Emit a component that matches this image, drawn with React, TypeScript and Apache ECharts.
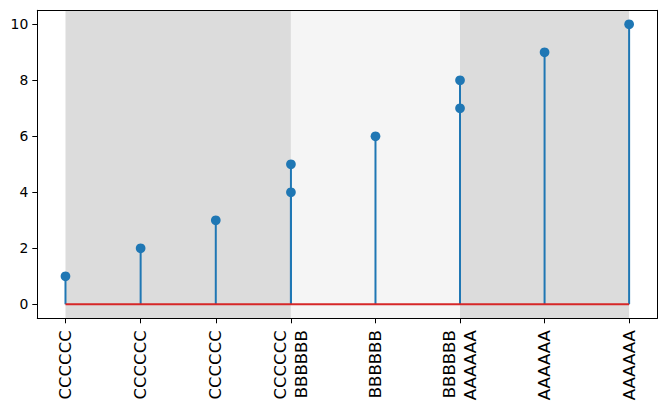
import React, { useEffect, useRef } from "react";
import * as echarts from "echarts";

const positions = [0, 8, 16, 24, 24, 33, 42, 42, 51, 60];
const values = [1, 2, 3, 4, 5, 6, 7, 8, 9, 10];
const labels = [
  "CCCCCC", "CCCCCC", "CCCCCC", "CCCCCC",
  "BBBBBB", "BBBBBB", "BBBBBB",
  "AAAAAA", "AAAAAA", "AAAAAA",
];
const yTicks = [0, 2, 4, 6, 8, 10];

const FONT = "DejaVu Sans";

export default function App() {
  const ref = useRef<HTMLDivElement>(null);

  useEffect(() => {
    if (!ref.current) return;
    const chart = echarts.init(ref.current, null, { renderer: "svg" });

    const tickMap: Record<string, string[]> = {};
    positions.forEach((p, i) => {
      const k = String(p);
      if (!tickMap[k]) tickMap[k] = [];
      tickMap[k].push(labels[i]);
    });
    const tickPositions = Array.from(new Set(positions));

    const groupOrder: string[] = [];
    labels.forEach((l) => { if (!groupOrder.includes(l)) groupOrder.push(l); });
    const spanColors = ["#dcdcdc", "#f5f5f5"];
    const spans = groupOrder.map((g, gi) => {
      const ps = positions.filter((_, i) => labels[i] === g);
      return [Math.min(...ps), Math.max(...ps), gi % 2];
    });

    const xMinData = Math.min(...positions);
    const xMaxData = Math.max(...positions);
    const xPad = (xMaxData - xMinData) * 0.05;
    const yMinData = 0;
    const yMaxData = Math.max(...values);
    const yPad = (yMaxData - yMinData) * 0.05;
    const xMin = xMinData - xPad, xMax = xMaxData + xPad;
    const yMin = yMinData - yPad, yMax = yMaxData + yPad;

    const stemData = positions.map((p, i) => [p, values[i]]);

    chart.setOption({
      animation: false,
      backgroundColor: "#ffffff",
      grid: { left: 37.3, right: 9.7, top: 10.3, bottom: 89.7, containLabel: false },
      xAxis: [
        {
          type: "value",
          min: xMin,
          max: xMax,
          z: 10,
          splitLine: { show: false },
          axisLine: { show: true, onZero: false, lineStyle: { color: "#000", width: 1 } },
          axisTick: { show: true, length: 5, lineStyle: { color: "#000", width: 1 }, customValues: tickPositions },
          axisLabel: {
            show: true,
            customValues: tickPositions,
            rotate: 90,
            margin: 12,
            fontFamily: FONT,
            fontSize: 16.5,
            lineHeight: 21,
            color: "#000",
            formatter: (v: number) => (tickMap[String(v)] || []).join("\n"),
          },
        },
        {
          type: "value",
          position: "top",
          min: xMin,
          max: xMax,
          z: 10,
          splitLine: { show: false },
          axisLine: { show: true, onZero: false, lineStyle: { color: "#000", width: 1 } },
          axisTick: { show: false },
          axisLabel: { show: false },
        },
      ],
      yAxis: [
        {
          type: "value",
          min: yMin,
          max: yMax,
          z: 10,
          splitLine: { show: false },
          axisLine: { show: true, onZero: false, lineStyle: { color: "#000", width: 1 } },
          axisTick: { show: true, length: 5, lineStyle: { color: "#000", width: 1 }, customValues: yTicks },
          axisLabel: {
            show: true,
            customValues: yTicks,
            margin: 9,
            fontFamily: FONT,
            fontSize: 13.9,
            color: "#000",
          },
        },
        {
          type: "value",
          position: "right",
          min: yMin,
          max: yMax,
          z: 10,
          splitLine: { show: false },
          axisLine: { show: true, onZero: false, lineStyle: { color: "#000", width: 1 } },
          axisTick: { show: false },
          axisLabel: { show: false },
        },
      ],
      series: [
        {
          type: "custom",
          z: 1,
          silent: true,
          data: spans,
          renderItem: (params: any, api: any) => {
            const a = api.coord([api.value(0), yMax]);
            const b = api.coord([api.value(1), yMin]);
            const cs = params.coordSys;
            return {
              type: "rect",
              shape: { x: a[0], y: cs.y, width: b[0] - a[0], height: cs.height },
              style: { fill: spanColors[api.value(2)] },
            };
          },
        },
        {
          type: "custom",
          z: 2,
          silent: true,
          data: stemData,
          renderItem: (params: any, api: any) => {
            const x = api.value(0);
            const y = api.value(1);
            const p0 = api.coord([x, 0]);
            const p1 = api.coord([x, y]);
            return {
              type: "line",
              shape: { x1: p0[0], y1: p0[1], x2: p1[0], y2: p1[1] },
              style: { stroke: "#1f77b4", lineWidth: 2 },
            };
          },
        },
        {
          type: "line",
          z: 3,
          silent: true,
          symbol: "none",
          data: [[xMinData, 0], [xMaxData, 0]],
          lineStyle: { color: "#d62728", width: 2 },
        },
        {
          type: "scatter",
          z: 4,
          silent: true,
          symbol: "circle",
          symbolSize: 9.7,
          data: stemData,
          itemStyle: { color: "#1f77b4", opacity: 1 },
        },
      ],
    });

    return () => chart.dispose();
  }, []);

  return <div ref={ref} style={{ width: 667, height: 408, position: "absolute", left: 0, top: 0 }} />;
}
